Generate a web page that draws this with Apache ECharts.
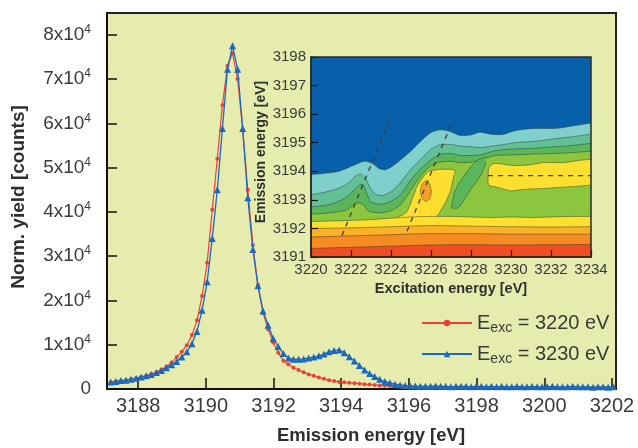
<!DOCTYPE html>
<html>
<head>
<meta charset="utf-8">
<script src="https://cdn.jsdelivr.net/npm/echarts@6/dist/echarts.min.js"></script>
<style>
html, body { margin: 0; padding: 0; background: #fff; }
#chart { width: 638px; height: 448px; }
</style>
</head>
<body>
<div id="chart"></div>
<script>
// emission spectra (yield in units of 1e4 counts)
var emissionEnergy = [3187.19, 3187.34, 3187.49, 3187.64, 3187.79, 3187.94, 3188.09, 3188.24, 3188.39, 3188.54,
  3188.69, 3188.84, 3188.99, 3189.14, 3189.29, 3189.44, 3189.59, 3189.74, 3189.89, 3190.04,
  3190.19, 3190.34, 3190.49, 3190.64, 3190.79, 3190.94, 3191.09, 3191.24, 3191.39, 3191.54,
  3191.69, 3191.84, 3191.99, 3192.14, 3192.29, 3192.44, 3192.59, 3192.74, 3192.89, 3193.04,
  3193.19, 3193.34, 3193.49, 3193.64, 3193.79, 3193.94, 3194.09, 3194.24, 3194.39, 3194.54,
  3194.69, 3194.84, 3194.99, 3195.14, 3195.29, 3195.44, 3195.59, 3195.74, 3195.89, 3196.04,
  3196.19, 3196.34, 3196.49, 3196.64, 3196.79, 3196.94, 3197.09, 3197.24, 3197.39, 3197.54,
  3197.69, 3197.84, 3197.99, 3198.14, 3198.29, 3198.44, 3198.59, 3198.74, 3198.89, 3199.04,
  3199.19, 3199.34, 3199.49, 3199.64, 3199.79, 3199.94, 3200.09, 3200.24, 3200.39, 3200.54,
  3200.69, 3200.84, 3200.99, 3201.14, 3201.29, 3201.44, 3201.59, 3201.74, 3201.89, 3202.04];

var yield3220 = [0.15, 0.17, 0.18, 0.20, 0.22, 0.24, 0.27, 0.30, 0.34, 0.38,
  0.44, 0.51, 0.60, 0.72, 0.84, 0.99, 1.22, 1.55, 2.10, 2.85,
  4.05, 5.20, 6.41, 7.30, 7.58, 7.00, 5.85, 4.50, 3.25, 2.35,
  1.72, 1.35, 1.05, 0.82, 0.64, 0.56, 0.48, 0.43, 0.38, 0.33,
  0.30, 0.26, 0.23, 0.20, 0.18, 0.16, 0.15, 0.14, 0.13, 0.12,
  0.11, 0.10, 0.09, 0.08, 0.075, 0.07, 0.06, 0.05, 0.05, 0.045,
  0.04, 0.04, 0.04, 0.035, 0.04, 0.03, 0.03, 0.03, 0.03, 0.03,
  0.03, 0.03, 0.03, 0.03, 0.03, 0.03, 0.03, 0.03, 0.03, 0.03,
  0.03, 0.03, 0.03, 0.03, 0.03, 0.03, 0.03, 0.03, 0.03, 0.03,
  0.03, 0.03, 0.03, 0.03, 0.03, 0.03, 0.03, 0.03, 0.03, 0.03];

var yield3230 = [0.16, 0.17, 0.19, 0.20, 0.22, 0.24, 0.27, 0.30, 0.33, 0.37,
  0.42, 0.48, 0.55, 0.62, 0.72, 0.84, 1.02, 1.30, 1.78, 2.42,
  3.40, 4.50, 5.88, 7.22, 7.75, 7.22, 5.88, 4.32, 3.15, 2.33,
  1.76, 1.44, 1.14, 0.96, 0.80, 0.70, 0.67, 0.67, 0.68, 0.70,
  0.72, 0.75, 0.79, 0.84, 0.87, 0.88, 0.82, 0.73, 0.63, 0.53,
  0.43, 0.35, 0.28, 0.22, 0.17, 0.14, 0.11, 0.09, 0.08, 0.07,
  0.07, 0.06, 0.06, 0.06, 0.07, 0.06, 0.06, 0.05, 0.06, 0.06,
  0.06, 0.05, 0.06, 0.06, 0.05, 0.06, 0.05, 0.06, 0.05, 0.05,
  0.06, 0.05, 0.05, 0.06, 0.05, 0.05, 0.05, 0.06, 0.05, 0.05,
  0.05, 0.06, 0.05, 0.05, 0.05, 0.04, 0.05, 0.05, 0.04, 0.05];

var excitationNames = ['3220', '3230'];
var emissionTicks = [3188, 3190, 3192, 3194, 3196, 3198, 3200, 3202];
var yieldTicks = [0, 1, 2, 3, 4, 5, 6, 7, 8];

// inset contour map: upper edge of each filled level, [excitation eV, emission eV]
var cyanTop = [[3220, 3193.88], [3220.7, 3193.93], [3221.4, 3194.0], [3222.2, 3194.23], [3222.7, 3194.35], [3223.05, 3194.28], [3223.4, 3194.1], [3223.7, 3194.05], [3224.05, 3194.17], [3224.4, 3194.35], [3224.97, 3194.69], [3225.47, 3195.04], [3225.97, 3195.34], [3226.47, 3195.45], [3226.97, 3195.39], [3227.47, 3195.25], [3227.97, 3195.27], [3228.47, 3195.37], [3228.97, 3195.3], [3229.5, 3195.28], [3230.2, 3195.42], [3231.2, 3195.5], [3232.2, 3195.5], [3233.2, 3195.6], [3234, 3195.69]];
var tealTop = [[3220, 3193.18], [3220.7, 3193.27], [3221.4, 3193.41], [3221.9, 3193.6], [3222.2, 3193.82], [3222.47, 3193.9], [3222.72, 3193.76], [3222.97, 3193.41], [3223.22, 3193.2], [3223.55, 3193.15], [3224.05, 3193.31], [3224.47, 3193.6], [3224.97, 3194.05], [3225.47, 3194.4], [3225.97, 3194.75], [3226.47, 3194.93], [3226.97, 3194.94], [3227.47, 3194.88], [3227.97, 3194.86], [3228.47, 3194.83], [3229.0, 3194.88], [3229.5, 3194.92], [3230.2, 3195.0], [3231.2, 3195.05], [3232.2, 3195.14], [3233.2, 3195.22], [3234, 3195.3]];
var greenTop = [[3220, 3192.75], [3221, 3192.85], [3221.8, 3193.1], [3222.3, 3193.45], [3222.55, 3193.55], [3222.8, 3193.2], [3223.0, 3192.92], [3223.5, 3192.85], [3224.0, 3192.95], [3224.5, 3193.2], [3225.0, 3193.7], [3225.5, 3194.1], [3226.0, 3194.4], [3226.5, 3194.6], [3227.0, 3194.62], [3227.5, 3194.55], [3228.0, 3194.55], [3228.5, 3194.58], [3229.2, 3194.72], [3230, 3194.78], [3231, 3194.8], [3232, 3194.85], [3233, 3194.9], [3234, 3194.98]];
var lightGreenTop = [[3220, 3192.5], [3221, 3192.55], [3221.8, 3192.65], [3222.3, 3192.9], [3222.6, 3192.85], [3222.9, 3192.6], [3223.5, 3192.55], [3224.0, 3192.62], [3224.5, 3192.85], [3225.0, 3193.35], [3225.5, 3193.85], [3226.0, 3194.2], [3226.5, 3194.33], [3227.0, 3194.35], [3227.5, 3194.3], [3228.0, 3194.32], [3228.5, 3194.4], [3229.2, 3194.55], [3230, 3194.57], [3231, 3194.6], [3232, 3194.62], [3233, 3194.65], [3234, 3194.7]];
var blockTop = [[3224.3, 3192.4], [3224.6, 3192.48], [3224.8, 3192.58], [3225.05, 3193.0], [3225.3, 3193.47], [3225.63, 3193.82], [3225.88, 3194.0], [3226.5, 3194.07], [3227.0, 3194.07], [3227.22, 3194.02]];
var blockEdgeTop = [[3226.3, 3192.42], [3226.47, 3192.6], [3226.75, 3192.95], [3226.97, 3193.3], [3227.1, 3193.7], [3227.22, 3194.02]];
var spotTop = [[3225.47, 3193.3], [3225.52, 3193.48], [3225.62, 3193.6], [3225.75, 3193.66], [3225.88, 3193.6], [3225.97, 3193.48], [3226.01, 3193.3]];
var spotBottom = [[3225.47, 3193.3], [3225.52, 3193.12], [3225.62, 3193.0], [3225.75, 3192.95], [3225.88, 3193.0], [3225.97, 3193.12], [3226.01, 3193.3]];
var tongueTop = [[3227.02, 3192.72], [3227.1, 3193.05], [3227.2, 3193.32], [3227.4, 3193.58], [3227.63, 3193.82], [3227.95, 3194.12], [3228.3, 3194.38], [3228.75, 3194.5]];
var tongueBottom = [[3227.02, 3192.72], [3227.3, 3192.7], [3227.55, 3192.88], [3227.97, 3193.35], [3228.3, 3193.65], [3228.55, 3193.95], [3228.75, 3194.3]];
var islandTop = [[3228.85, 3193.6], [3228.88, 3194.1], [3229.0, 3194.22], [3229.2, 3194.28], [3229.7, 3194.24], [3230.2, 3194.2], [3230.9, 3194.22], [3231.7, 3194.31], [3232.5, 3194.3], [3233.4, 3194.38], [3234, 3194.42]];
var islandBottom = [[3228.85, 3193.6], [3228.9, 3193.5], [3229.2, 3193.46], [3229.6, 3193.38], [3230.05, 3193.31], [3230.5, 3193.36], [3231, 3193.38], [3231.7, 3193.4], [3232.5, 3193.44], [3233.4, 3193.48], [3234, 3193.52]];
var yellowTop = [[3220, 3192.24], [3221, 3192.26], [3222, 3192.28], [3223, 3192.31], [3224, 3192.36], [3225, 3192.4], [3226, 3192.42], [3227, 3192.42], [3228, 3192.4], [3229, 3192.38], [3230, 3192.4], [3231, 3192.38], [3232, 3192.4], [3233, 3192.42], [3234, 3192.42]];
var amberTop = [[3220, 3192.0], [3222, 3192.02], [3224, 3192.06], [3226, 3192.1], [3228, 3192.08], [3230, 3192.06], [3232, 3192.05], [3234, 3192.06]];
var orangeTop = [[3220, 3191.7], [3222, 3191.74], [3224, 3191.78], [3226, 3191.82], [3228, 3191.82], [3230, 3191.8], [3232, 3191.8], [3234, 3191.8]];
var redTop = [[3220, 3191.3], [3222, 3191.34], [3224, 3191.38], [3226, 3191.42], [3228, 3191.43], [3230, 3191.42], [3232, 3191.43], [3234, 3191.44]];

var guideA = [[3221.55, 3191.75], [3223.9, 3195.75]];
var guideB = [[3224.8, 3191.9], [3227.1, 3195.8]];
var guideC = [[3228.85, 3193.85], [3234, 3193.85]];

var font = 'Liberation Sans';
var textColor = '#3a3a3a';
var C = {
  blue: '#0760a9', cyan: '#7fcfcc', teal: '#63bf96', green: '#5ab55b', lime: '#8cc63f',
  yellow: '#fde02f', amber: '#fbb227', orange: '#f58b22', red: '#ef4e25', spot: '#f6a224'
};

var layers = [
  [cyanTop, C.cyan, 0.25], [tealTop, C.teal, 0.25], [greenTop, C.green, 0.25], [lightGreenTop, C.lime, 0.25],
  [blockTop, C.yellow, 0.15], [blockEdgeTop, C.lime, 0.15],
  [spotTop, C.spot, 0.5], [spotBottom, C.yellow, 0.5],
  [tongueTop, C.green, 0.2], [tongueBottom, C.lime, 0.2],
  [islandTop, C.yellow, 0.2], [islandBottom, C.lime, 0.2],
  [yellowTop, C.yellow, 0.25], [amberTop, C.amber, 0.25], [orangeTop, C.orange, 0.25], [redTop, C.red, 0.25]
];

function pairs(xs, ys) {
  return xs.map(function (x, i) { return [x, ys[i]]; });
}
function plain(v) { return String(v); }

var series = [
  {
    name: excitationNames[0], type: 'line', data: pairs(emissionEnergy, yield3220),
    symbol: 'circle', symbolSize: 4, color: '#ee3f35',
    lineStyle: { width: 1.2, color: '#ee3f35' }, z: 3
  },
  {
    name: excitationNames[1], type: 'line', data: pairs(emissionEnergy, yield3230),
    symbol: 'triangle', symbolSize: 7, color: '#1c68bd',
    lineStyle: { width: 1.3, color: '#1c68bd' }, z: 4
  }
];

layers.forEach(function (l, i) {
  series.push({
    type: 'line', xAxisIndex: 1, yAxisIndex: 1, data: l[0], symbol: 'none', smooth: l[2],
    silent: true, z: 10 + i,
    lineStyle: { color: 'rgba(45,55,45,0.6)', width: 0.8 },
    areaStyle: { color: l[1], opacity: 1, origin: 'start' }
  });
});

[guideA, guideB, guideC].forEach(function (g) {
  series.push({
    type: 'line', xAxisIndex: 1, yAxisIndex: 1, data: g, symbol: 'none', silent: true, z: 40,
    lineStyle: { color: '#3c3c3c', width: 1.3, type: [5, 5] }
  });
});

var chart = echarts.init(document.getElementById('chart'));
chart.setOption({
  animation: false,
  backgroundColor: '#fff',
  grid: [
    { left: 107, top: 13, right: 22, bottom: 59, show: true, backgroundColor: '#e6ecad', borderColor: '#222', borderWidth: 2 },
    { left: 311, top: 57, width: 280, height: 200, show: true, backgroundColor: C.blue, borderWidth: 0 }
  ],
  legend: {
    left: 416, top: 308, orient: 'vertical', itemWidth: 50, itemHeight: 8, itemGap: 9,
    data: excitationNames,
    formatter: function (name) { return '{e|E}{s|exc}{e| = ' + name + ' eV}'; },
    textStyle: {
      color: textColor,
      rich: {
        e: { fontSize: 20, fontFamily: font, color: textColor },
        s: { fontSize: 14, fontFamily: font, color: textColor, padding: [10, 0, 0, 0] }
      }
    }
  },
  xAxis: [
    {
      type: 'value', gridIndex: 0, min: 3187.08, max: 3202.12,
      axisLine: { lineStyle: { color: '#111', width: 2 } },
      axisTick: { inside: true, length: 11, customValues: emissionTicks, lineStyle: { color: '#111', width: 1.5 } },
      axisLabel: { customValues: emissionTicks, formatter: plain, fontSize: 20, fontFamily: font, color: textColor, margin: 7 },
      splitLine: { show: false }
    },
    {
      type: 'value', gridIndex: 1, min: 3220, max: 3234, interval: 2, z: 60,
      axisLine: { lineStyle: { color: '#222', width: 1.5 } },
      axisTick: { inside: true, length: 7, lineStyle: { color: '#111', width: 1.2 } },
      axisLabel: { formatter: plain, fontSize: 15, fontFamily: font, color: textColor, margin: 5 },
      splitLine: { show: false }
    }
  ],
  yAxis: [
    {
      type: 'value', gridIndex: 0, min: 0, max: 8.49,
      axisLine: { lineStyle: { color: '#111', width: 2 } },
      axisTick: { inside: true, length: 10, customValues: yieldTicks, lineStyle: { color: '#111', width: 1.5 } },
      axisLabel: {
        customValues: yieldTicks, margin: 16, color: textColor,
        formatter: function (v) { return v === 0 ? '{b|0}' : '{b|' + v + 'x10}{s|4}'; },
        rich: {
          b: { fontSize: 19, fontFamily: font, color: textColor },
          s: { fontSize: 12, fontFamily: font, color: textColor, padding: [0, 0, 10, 0] }
        }
      },
      splitLine: { show: false }
    },
    {
      type: 'value', gridIndex: 1, min: 3191, max: 3198, interval: 1, z: 60,
      axisLine: { lineStyle: { color: '#222', width: 1.5 } },
      axisTick: { inside: true, length: 7, lineStyle: { color: '#111', width: 1.2 } },
      axisLabel: { formatter: plain, fontSize: 15, fontFamily: font, color: textColor, margin: 5 },
      splitLine: { show: false }
    }
  ],
  graphic: [
    { type: 'rect', z: 80, shape: { x: 311, y: 57, width: 280, height: 200 }, style: { fill: null, stroke: '#2a2a2a', lineWidth: 1.5 } },
    { type: 'text', x: 371, y: 436, style: { text: 'Emission energy [eV]', font: 'bold 18.5px "Liberation Sans"', fill: '#2e2e2e', align: 'center', verticalAlign: 'middle' } },
    { type: 'text', x: 19, y: 197, rotation: Math.PI / 2, style: { text: 'Norm. yield [counts]', font: 'bold 19px "Liberation Sans"', fill: '#2e2e2e', align: 'center', verticalAlign: 'middle' } },
    { type: 'text', x: 451, y: 289, style: { text: 'Excitation energy [eV]', font: 'bold 14.5px "Liberation Sans"', fill: '#2e2e2e', align: 'center', verticalAlign: 'middle' } },
    { type: 'text', x: 261, y: 152, rotation: Math.PI / 2, style: { text: 'Emission energy [eV]', font: 'bold 14px "Liberation Sans"', fill: '#2e2e2e', align: 'center', verticalAlign: 'middle' } }
  ],
  series: series
});
</script>
</body>
</html>
